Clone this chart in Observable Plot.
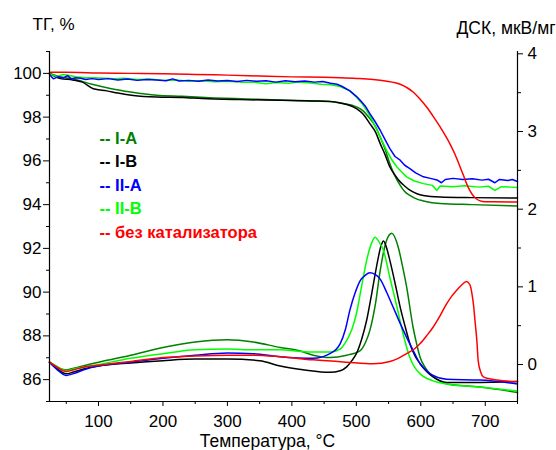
<!DOCTYPE html>
<html><head><meta charset="utf-8">
<script src="https://cdn.jsdelivr.net/npm/d3@7"></script>
<script src="https://cdn.jsdelivr.net/npm/@observablehq/plot@0.6"></script>
<style>body{margin:0;background:#fff}</style>
</head><body><div id="chart"></div><script>
// ---- Data: [temperature °C, value] ----
const tgIA = [[24,100.0],[40,99.85],[60,99.75],[90,99.5],[120,99.3],[150,99.15],[190,99.0],[230,98.95],[280,98.88],[330,98.83],[380,98.78],[430,98.74],[460,98.7],[480,98.62],[500,98.47],[510,98.3],[521,97.93],[530,97.55],[537,97.09],[545,96.5],[552,95.87],[560,95.3],[568,94.88],[575,94.6],[583,94.42],[594,94.25],[604,94.17],[630,94.05],[680,94.0],[750,93.94]];
const tgIB = [[24,100.0],[41,99.76],[60,99.7],[75,99.6],[92,99.3],[113,99.2],[130,99.1],[154,98.99],[190,98.92],[230,98.9],[260,98.85],[320,98.8],[382,98.77],[430,98.74],[460,98.72],[475,98.65],[500,98.39],[510,98.15],[521,97.7],[530,97.3],[537,96.79],[545,96.25],[552,95.72],[560,95.35],[568,95.04],[575,94.85],[583,94.66],[594,94.5],[604,94.42],[630,94.35],[680,94.32],[750,94.3]];
const tgIIA = [[24,99.95],[30,99.75],[38,99.85],[45,99.78],[52,99.9],[58,99.75],[65,99.8],[72,99.78],[80,99.72],[90,99.76],[100,99.72],[115,99.76],[130,99.7],[145,99.74],[160,99.68],[175,99.72],[190,99.7],[205,99.66],[215,99.75],[225,99.65],[240,99.68],[255,99.64],[270,99.7],[285,99.65],[300,99.67],[315,99.63],[330,99.68],[345,99.64],[360,99.66],[375,99.6],[390,99.66],[405,99.62],[420,99.65],[435,99.6],[448,99.63],[460,99.55],[470,99.5],[478,99.4],[490,99.2],[500,98.95],[506,98.77],[514,98.5],[521,98.16],[529,97.8],[537,97.4],[545,96.95],[552,96.56],[560,96.2],[568,96.03],[575,95.8],[583,95.65],[592,95.45],[604,95.27],[615,95.2],[625,95.13],[632,95.0],[638,95.15],[650,95.2],[665,95.15],[680,95.18],[695,95.12],[705,95.16],[715,95.0],[722,95.15],[735,95.1],[742,95.15],[750,95.06]];
const tgIIB = [[24,99.98],[35,99.85],[45,99.95],[55,99.9],[65,99.85],[80,99.8],[95,99.8],[110,99.78],[125,99.75],[140,99.78],[160,99.72],[180,99.74],[200,99.68],[220,99.7],[240,99.64],[260,99.66],[280,99.62],[300,99.64],[320,99.6],[340,99.6],[360,99.53],[375,99.58],[395,99.55],[410,99.6],[430,99.56],[445,99.5],[460,99.48],[475,99.4],[490,99.2],[500,98.92],[508,98.65],[516,98.31],[524,97.9],[532,97.4],[540,96.9],[547,96.48],[555,96.05],[563,95.72],[570,95.5],[578,95.27],[590,95.08],[604,94.96],[618,94.88],[625,94.65],[630,94.85],[650,94.82],[668,94.86],[690,94.8],[705,94.84],[715,94.65],[725,94.82],[740,94.8],[750,94.78]];
const tgRef = [[24,100.05],[50,100.05],[100,100.02],[150,100.0],[200,99.98],[250,99.95],[300,99.92],[350,99.88],[400,99.84],[450,99.82],[475,99.8],[500,99.77],[526,99.72],[545,99.65],[568,99.5],[580,99.32],[588,99.15],[598,98.85],[609,98.46],[620,98.0],[630,97.55],[645,96.79],[653,96.3],[661,95.72],[666,95.35],[671,94.96],[676,94.65],[681,94.42],[686,94.27],[692,94.17],[700,94.13],[750,94.12]];

const dscIA = [[24,0.03],[30,0.0],[40,-0.05],[50,-0.07],[60,-0.05],[80,-0.01],[100,0.03],[150,0.12],[200,0.22],[250,0.29],[300,0.32],[340,0.29],[382,0.22],[410,0.18],[433,0.12],[459,0.09],[485,0.12],[506,0.18],[515,0.3],[521,0.44],[530,0.8],[537,1.21],[547,1.6],[555,1.69],[565,1.51],[572,1.25],[578,1.0],[588,0.48],[594,0.25],[599,0.09],[607,-0.04],[614,-0.12],[630,-0.21],[640,-0.25],[692,-0.29],[750,-0.36]];
const dscIB = [[24,0.03],[35,-0.05],[50,-0.12],[60,-0.1],[80,-0.05],[100,-0.02],[150,0.02],[200,0.05],[250,0.07],[300,0.07],[350,0.05],[382,-0.02],[420,-0.07],[459,-0.1],[475,-0.08],[485,-0.03],[493,0.05],[500,0.14],[508,0.32],[516,0.57],[524,0.92],[532,1.29],[538,1.52],[542,1.59],[547,1.5],[552,1.34],[560,1.05],[568,0.74],[576,0.48],[583,0.27],[591,0.11],[599,0.01],[609,-0.09],[619,-0.16],[640,-0.23],[692,-0.23],[750,-0.22]];
const dscIIA = [[24,0.03],[35,-0.06],[50,-0.14],[60,-0.12],[80,-0.06],[100,-0.02],[150,0.03],[200,0.08],[250,0.12],[300,0.15],[340,0.14],[382,0.1],[433,0.08],[459,0.14],[475,0.27],[483,0.45],[490,0.7],[498,0.92],[506,1.08],[514,1.15],[521,1.18],[529,1.16],[537,1.1],[547,0.93],[557,0.74],[568,0.53],[578,0.35],[590,0.15],[599,0.01],[609,-0.08],[619,-0.14],[640,-0.19],[692,-0.2],[750,-0.25]];
const dscIIB = [[24,0.03],[35,-0.02],[50,-0.08],[60,-0.06],[80,-0.03],[100,0.0],[150,0.08],[200,0.14],[250,0.19],[300,0.2],[340,0.19],[382,0.19],[410,0.17],[433,0.16],[459,0.16],[475,0.2],[485,0.31],[493,0.45],[500,0.65],[508,1.0],[516,1.34],[523,1.55],[529,1.64],[535,1.58],[542,1.47],[552,1.12],[563,0.74],[573,0.38],[583,0.09],[590,-0.03],[599,-0.12],[619,-0.21],[640,-0.25],[692,-0.29],[750,-0.34]];
const dscRef = [[24,0.03],[35,-0.03],[50,-0.09],[60,-0.07],[80,-0.03],[100,-0.01],[150,0.04],[200,0.09],[250,0.11],[300,0.12],[340,0.12],[382,0.1],[433,0.06],[485,0.03],[526,0.01],[552,0.04],[565,0.08],[578,0.14],[590,0.2],[599,0.27],[609,0.37],[619,0.48],[630,0.63],[640,0.78],[648,0.88],[655,0.95],[663,1.02],[671,1.07],[676,1.03],[679,0.93],[682,0.75],[684,0.57],[687,0.3],[689,0.05],[693,-0.1],[697,-0.16],[705,-0.18],[718,-0.2],[750,-0.22]];

const seriesNames = ["I-A","I-B","II-A","II-B","без катализатора"];
const seriesColors = ["#008000","#000000","#0000ff","#00ff00","#ff0000"];
const xTicks = [100,200,300,400,500,600,700];
const xMinor = [50,150,250,350,450,550,650,750];
const yTicks = [86,88,90,92,94,96,98,100];
const yMinor = [85,87,89,91,93,95,97,99,101];
const y2Ticks = [0,1,2,3,4];
const y2Minor = [0.5,1.5,2.5,3.5];

// DSC (right axis) -> TG (left axis) units
const y2Base = 86.69, y2Scale = 3.551;
const toLeft = v => y2Base + v * y2Scale;

const tgSets = [tgIA, tgIB, tgIIA, tgIIB, tgRef];
const dscSets = [dscIA, dscIB, dscIIA, dscIIB, dscRef];
const drawOrder = [0, 1, 3, 2, 4];

const font = "Arial, 'Liberation Sans', sans-serif";
const marks = [];
for (const i of drawOrder) {
  const noisy = i === 2 || i === 3;
  marks.push(Plot.line(tgSets[i], {x: d => d[0], y: d => d[1], stroke: seriesColors[i], strokeWidth: 1.5, curve: noisy ? "linear" : "monotone-x"}));
}
for (const i of drawOrder) {
  marks.push(Plot.line(dscSets[i], {x: d => d[0], y: d => toLeft(d[1]), stroke: seriesColors[i], strokeWidth: 1.5, curve: "monotone-x"}));
}
// axes
marks.push(
  Plot.ruleX([24], {stroke: "#000", strokeWidth: 1.2}),
  Plot.ruleX([750], {stroke: "#000", strokeWidth: 1.2}),
  Plot.ruleY([85], {stroke: "#000", strokeWidth: 1.2}),
  Plot.axisY(yTicks, {anchor: "left", tickSize: 6, tickPadding: 2, fontSize: 17, label: null, tickFormat: d => String(d)}),
  Plot.axisY(yMinor, {anchor: "left", tickSize: 3, label: null, tickFormat: () => ""}),
  Plot.axisY(y2Ticks.map(toLeft), {anchor: "right", tickSize: 5, tickPadding: 5, fontSize: 17, label: null, tickFormat: d => String(Math.round((d - y2Base) / y2Scale))}),
  Plot.axisY(y2Minor.map(toLeft), {anchor: "right", tickSize: 3, label: null, tickFormat: () => ""}),
  Plot.axisX(xTicks, {anchor: "bottom", tickSize: 5, tickPadding: 8, fontSize: 17, label: null, tickFormat: d => String(d)}),
  Plot.axisX(xMinor, {anchor: "bottom", tickSize: 3, label: null, tickFormat: () => ""}),
  Plot.text(["ТГ, %"], {frameAnchor: "top-left", lineAnchor: "middle", dx: -17, dy: -26.5, textAnchor: "start", fontSize: 17}),
  Plot.text(["ДСК, мкВ/мг"], {frameAnchor: "top-right", lineAnchor: "middle", dx: -61, dy: -23.5, textAnchor: "start", fontSize: 17.5}),
  Plot.text(["Температура, °C"], {frameAnchor: "bottom", lineAnchor: "middle", dx: -16, dy: 40, fontSize: 17.5})
);
seriesNames.forEach((name, i) => {
  marks.push(Plot.text([`-- ${name}`], {frameAnchor: "top-left", lineAnchor: "middle", dx: 50, dy: 87 + i * 23.5, textAnchor: "start", fontSize: 16.5, fontWeight: "bold", fill: seriesColors[i]}));
});

const chart = Plot.plot({
  width: 556, height: 450,
  marginLeft: 49, marginRight: 39, marginTop: 51, marginBottom: 49,
  style: {fontFamily: font, color: "#000", background: "#fff", overflow: "visible"},
  x: {domain: [24, 750], axis: null},
  y: {domain: [85, 101], axis: null},
  marks
});
document.getElementById("chart").appendChild(chart);
</script></body></html>
